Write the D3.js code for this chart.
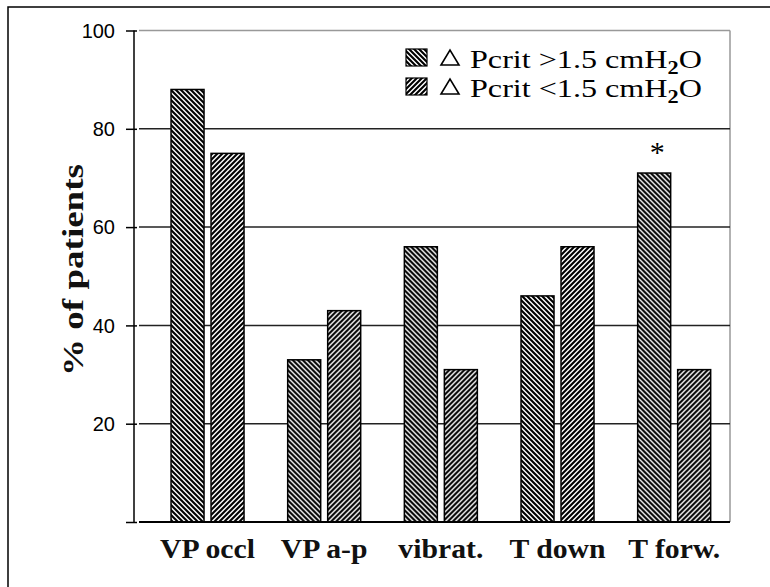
<!DOCTYPE html>
<html>
<head>
<meta charset="utf-8">
<script src="https://cdn.jsdelivr.net/npm/d3@7"></script>
<style>
  html, body { margin: 0; padding: 0; background: #fff; }
  svg { display: block; }
</style>
</head>
<body>
<svg id="chart" width="770" height="587"></svg>
<script>
// ---- data ----
const categories = ["VP occl", "VP a-p", "vibrat.", "T down", "T forw."];
const seriesKeys = ["above", "below"];
const seriesLabels = ["Pcrit >1.5 cmH", "Pcrit <1.5 cmH"];
const aboveValues = [88, 33, 56, 46, 71];
const belowValues = [75, 43, 31, 56, 31];
const yTicks = [0, 20, 40, 60, 80, 100];
const yTickLabels = ["", "20", "40", "60", "80", "100"];
const significantCategories = ["T forw."];
const yTitle = "% of patients";

const svg = d3.select("#chart");
const serif = "'Liberation Serif','Times New Roman',serif";
const sans = "'Liberation Sans',Arial,sans-serif";

// patterns
const defs = svg.append("defs");
function stripePattern(id, d) {
  const p = defs.append("pattern").attr("id", id)
    .attr("patternUnits", "userSpaceOnUse").attr("width", 5).attr("height", 5);
  p.append("rect").attr("width", 5).attr("height", 5).attr("fill", "#fff");
  p.append("path").attr("d", d).attr("stroke", "#000").attr("stroke-width", 2.1)
    .attr("fill", "none");
}
stripePattern("pat-above", "M-1,-1L6,6M-1,4L1,6M4,-1L6,1");
stripePattern("pat-below", "M-1,6L6,-1M-1,1L1,-1M4,6L6,4");
const fills = { above: "url(#pat-above)", below: "url(#pat-below)" };

// outer frame
svg.append("rect").attr("x", 8).attr("y", 7).attr("width", 800).attr("height", 620)
  .attr("fill", "none").attr("stroke", "#000").attr("stroke-width", 1.5);

// scales
const plotLeft = 139, plotRight = 730;
const y = d3.scaleLinear().domain([0, 100]).range([522, 30.5]);
const x0 = d3.scaleBand().domain(categories).range([149.2, 732.5]).paddingInner(0).paddingOuter(0);
const groupW = 73;
const x1 = d3.scaleBand().domain(seriesKeys).range([0, groupW]).paddingInner(0.175).paddingOuter(0);

const data = categories.map((c, i) => ({ cat: c, above: aboveValues[i], below: belowValues[i] }));

// plot area border (grey top and right)
svg.append("line").attr("x1", plotLeft).attr("x2", plotRight).attr("y1", y(100)).attr("y2", y(100))
  .attr("stroke", "#999").attr("stroke-width", 1.5);
svg.append("line").attr("x1", plotRight).attr("x2", plotRight).attr("y1", y(100)).attr("y2", y(0))
  .attr("stroke", "#999").attr("stroke-width", 1.5);

// gridlines
svg.append("g").selectAll("line").data(yTicks.filter(t => t > 0 && t < 100)).join("line")
  .attr("x1", plotLeft).attr("x2", plotRight)
  .attr("y1", d => y(d)).attr("y2", d => y(d))
  .attr("stroke", "#222").attr("stroke-width", 1.5);

// y axis
const yAxis = d3.axisLeft(y).tickValues(yTicks).tickSize(8)
  .tickFormat((d, i) => yTickLabels[i]);
const yg = svg.append("g").attr("transform", "translate(134,0)").call(yAxis);
yg.select(".domain").attr("stroke", "#000").attr("stroke-width", 1.5).attr("d", `M0,${y(100)}V${y(0)}`);
yg.selectAll(".tick line").attr("stroke", "#000").attr("stroke-width", 1.5).attr("x2", -8).attr("x1", 3);
yg.selectAll(".tick text").attr("font-family", sans).attr("font-size", 20).attr("fill", "#000")
  .attr("x", -19).attr("dy", "0.34em");

// bars
const groups = svg.append("g").selectAll("g").data(data).join("g")
  .attr("transform", d => `translate(${x0(d.cat) + x0.bandwidth() / 2 - groupW / 2},0)`);
groups.selectAll("rect").data(d => seriesKeys.map(k => ({ key: k, value: d[k] }))).join("rect")
  .attr("x", d => x1(d.key)).attr("width", x1.bandwidth())
  .attr("y", d => y(d.value)).attr("height", d => y(0) - y(d.value))
  .attr("fill", d => fills[d.key]).attr("stroke", "#000").attr("stroke-width", 1.5);

// baseline
svg.append("line").attr("x1", plotLeft).attr("x2", plotRight).attr("y1", y(0)).attr("y2", y(0))
  .attr("stroke", "#000").attr("stroke-width", 2);

// significance asterisk
svg.append("g").selectAll("text").data(data.filter(d => significantCategories.includes(d.cat))).join("text")
  .attr("x", d => x0(d.cat) + x0.bandwidth() / 2 - groupW / 2 + x1("above") + x1.bandwidth() / 2 + 3)
  .attr("y", d => y(d.above) - 11)
  .attr("text-anchor", "middle").attr("font-family", serif).attr("font-size", 30).text("*");

// helper: stretch text horizontally to a target width
function stretch(textSel, target) {
  const w = textSel.node().getComputedTextLength();
  const s = target / w;
  textSel.attr("transform", `scale(${s},1)`);
  return s;
}

// category labels
const catG = svg.append("g").selectAll("g").data(categories).join("g")
  .attr("transform", c => `translate(${x0(c) + x0.bandwidth() / 2},558)`);
const catTexts = catG.append("text").attr("text-anchor", "middle")
  .attr("font-family", serif).attr("font-weight", "bold").attr("font-size", 27)
  .attr("fill", "#111").text(c => c);
const refW = catTexts.filter((c, i) => i === 0).node().getComputedTextLength();
const catScale = 95 / refW;
catTexts.attr("transform", `scale(${catScale},1)`);

// y title
const yt = svg.append("g").attr("transform", "translate(83,270) rotate(-90)")
  .append("text").attr("text-anchor", "middle")
  .attr("font-family", serif).attr("font-weight", "bold").attr("font-size", 29)
  .attr("fill", "#111").text(yTitle);
stretch(yt, 212);

// legend
const legend = svg.append("g");
seriesKeys.forEach((k, i) => {
  const by = 68 + i * 29;
  legend.append("rect").attr("x", 406).attr("y", by - 19).attr("width", 21).attr("height", 17)
    .attr("fill", fills[k]).attr("stroke", "#000").attr("stroke-width", 1.2);
  legend.append("path")
    .attr("d", `M${441},${by - 3}L${459},${by - 3}L${450},${by - 18}Z`)
    .attr("fill", "none").attr("stroke", "#000").attr("stroke-width", 1.6)
    .attr("stroke-linejoin", "miter");
  const g = legend.append("g").attr("transform", `translate(470,${by})`);
  const t = g.append("text").attr("font-family", serif).attr("font-size", 26).attr("fill", "#000");
  t.append("tspan").text(seriesLabels[i]);
  t.append("tspan").attr("font-size", 18).attr("font-weight", "bold").attr("dy", 6).text("2");
  t.append("tspan").attr("dy", -6).text("O");
  stretch(t, 232);
});
</script>
</body>
</html>
